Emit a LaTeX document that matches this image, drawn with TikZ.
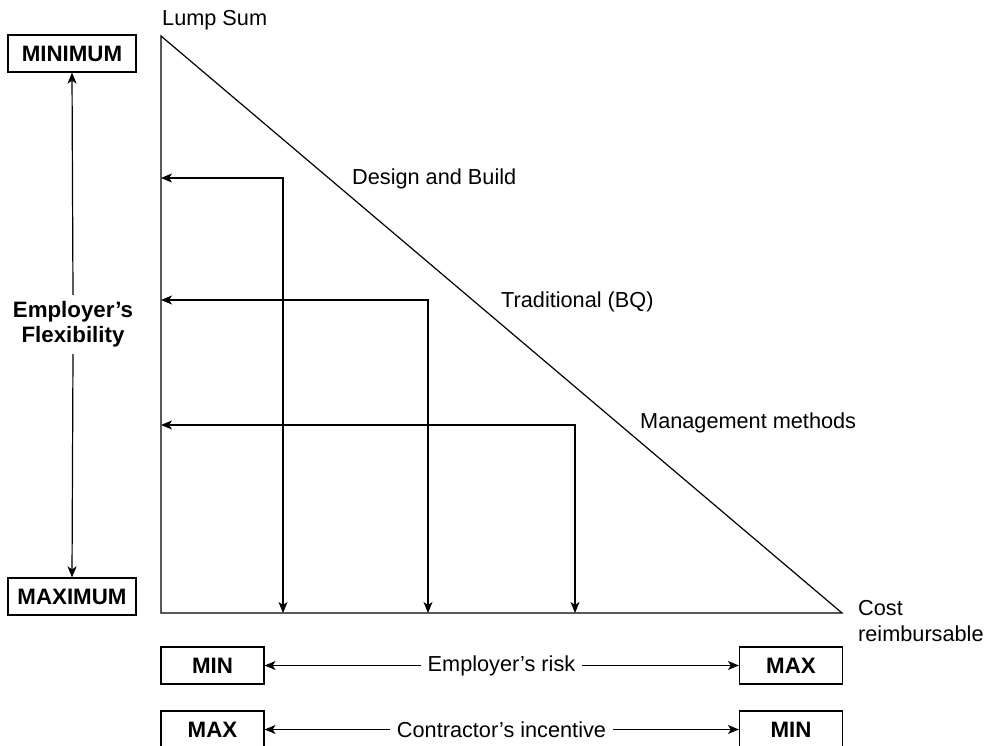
\documentclass[tikz,border=0pt]{standalone}
\usepackage{fontspec}
\setmainfont{Liberation Sans}
\usetikzlibrary{arrows.meta}
\begin{document}
\begin{tikzpicture}[x=1pt,y=-1pt,
  every node/.style={font=\fontsize{21.7}{26}\selectfont},
  ln/.style={line width=1.2pt},
  arr/.style={ln,-{Stealth[length=11pt,width=9pt,inset=3pt]}},
  darr/.style={ln,{Stealth[length=11pt,width=9pt,inset=3pt]}-{Stealth[length=11pt,width=9pt,inset=3pt]}},
  sidebox/.style={draw,line width=1.2pt,minimum width=128pt,minimum height=37pt,inner sep=0pt,font=\fontsize{22.3}{25}\selectfont\bfseries},
  botbox/.style={draw,line width=1.2pt,minimum width=103pt,minimum height=37pt,inner sep=0pt,font=\fontsize{22.3}{25}\selectfont\bfseries},
  lbl/.style={anchor=west,inner sep=0pt}
]
\useasboundingbox (0,0) rectangle (989,746);
% left scale
\node[sidebox] (minimum) at (72,53.5) {MINIMUM};
\node[sidebox] (maximum) at (72,596.5) {MAXIMUM};
\node[align=center,inner sep=0pt,minimum height=59pt,font=\fontsize{22.3}{25}\selectfont\bfseries] (flex) at (73,324.5) {Employer’s\\Flexibility};
\draw[arr] (flex.north) -- (minimum.south);
\draw[arr] (flex.south) -- (maximum.north);
% triangle
\coordinate (top) at (161,36);
\coordinate (bl) at (161,613);
\coordinate (br) at (842,613);
\draw[ln] (top) -- (bl) -- (br) -- cycle;
% internal arrows
\coordinate (a1l) at (161,178); \coordinate (a1c) at (283,178); \coordinate (a1b) at (283,613);
\coordinate (a2l) at (161,300); \coordinate (a2c) at (428,300); \coordinate (a2b) at (428,613);
\coordinate (a3l) at (161,425); \coordinate (a3c) at (575,425); \coordinate (a3b) at (575,613);
\draw[darr] (a1l) -- (a1c) -- (a1b);
\draw[darr] (a2l) -- (a2c) -- (a2b);
\draw[darr] (a3l) -- (a3c) -- (a3b);
% labels
\node[lbl] (lump) at (162,20) {Lump Sum};
\node[lbl] (db) at (352,179) {Design and Build};
\node[lbl] (trad) at (501,302) {Traditional (BQ)};
\node[lbl] (mgmt) at (640,423) {Management methods};
\node[lbl,align=left,anchor=north west] (cost) at (858,600) {Cost\\reimbursable};
% bottom scales
\node[botbox] (min1) at (212.5,665.5) {MIN};
\node[botbox] (max1) at (791,665.5) {MAX};
\node[botbox] (max2) at (212.5,729.5) {MAX};
\node[botbox] (min2) at (791,729.5) {MIN};
\node[inner xsep=7pt,inner ysep=0pt] (risk) at (501.5,665.5) {Employer’s risk};
\node[inner xsep=7pt,inner ysep=0pt] (inc) at (501.5,729.5) {Contractor’s incentive};
\draw[arr] (risk.west) -- (min1.east);
\draw[arr] (risk.east) -- (max1.west);
\draw[arr] (inc.west) -- (max2.east);
\draw[arr] (inc.east) -- (min2.west);
\end{tikzpicture}
\end{document}
